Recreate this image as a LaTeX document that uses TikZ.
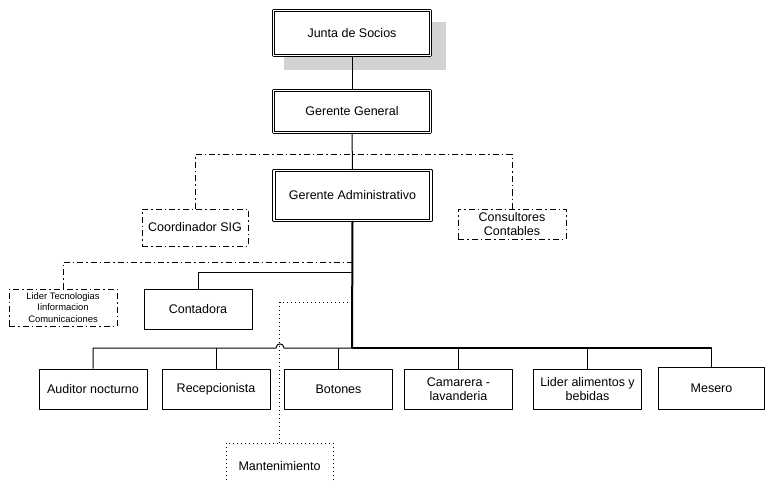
\documentclass[tikz,border=0pt]{standalone}
\usepackage{fontspec}
\setmainfont{Liberation Sans}
\begin{document}
\begin{tikzpicture}[x=1pt,y=-1pt,font=\fontsize{12.5}{14}\selectfont,line join=round,
		cargo/.style={draw,fill=white,line width=0.8pt,double,double distance=1.5pt,minimum width=157pt,inner sep=0pt},
		puesto/.style={draw,fill=white,line width=1pt,minimum width=108pt,minimum height=40pt,inner sep=0pt,align=center},
		asesor/.style={dash pattern=on 6pt off 3pt on 1.5pt off 3pt},
		apoyo/.style={dash pattern=on 1pt off 3pt,line width=1pt},
		linea/.style={line width=1pt}] %Organigrama
			\useasboundingbox (0,0) rectangle (765,481);
			\fill[gray!35] (284,22) rectangle (446,70);
			\node[cargo,minimum height=45pt] (junta) at (352,33) {Junta de Socios};
			\node[cargo,minimum height=42pt] (gerente) at (352,111.5) {Gerente General};
			\node[cargo,minimum height=50pt] (admin) at (352.5,195.5) {Gerente Administrativo};
			\node[puesto,asesor,minimum width=106pt,minimum height=37pt] (sig) at (195,227.5) {Coordinador SIG};
			\node[puesto,asesor,minimum height=30pt] (consult) at (512,224) {Consultores\\Contables};
			\node[puesto,asesor,minimum height=37pt,font=\fontsize{9.4}{11.5}\selectfont] (liderti) at (63,307.5) {Lider Tecnologias\\Iinformacion\\Comunicaciones};
			\node[puesto] (contadora) at (198,309) {Contadora};
			\node[puesto] (auditor) at (93,389) {Auditor nocturno};
			\node[puesto] (recep) at (216,389) {Recepcionista};
			\node[puesto] (botones) at (338.5,389) {Botones};
			\node[puesto] (camarera) at (458.5,389) {Camarera -\\lavanderia};
			\node[puesto] (liderab) at (587.5,389) {Lider alimentos y\\bebidas};
			\node[puesto,minimum width=106pt,minimum height=42pt] (mesero) at (711.5,388) {Mesero};
			\node[puesto,apoyo,minimum width=107pt,minimum height=46pt] (mant) at (279.5,466) {Mantenimiento};
			\coordinate (asesoria) at (352,155);
			\coordinate (ti) at (352,262);
			\coordinate (conta) at (352,272);
			\coordinate (apoyo) at (352,302);
			\coordinate (nudo) at (352,348);
			\draw[linea] (junta.south)--(gerente.north);
			\draw[linea] (gerente.south)--(admin.north);
			\draw[linea,asesor] (sig.north) |- (asesoria) -| (consult.north);
			\draw[line width=2pt] (admin.south)--(nudo);
			\draw[linea,asesor] (liderti.north) |- (ti);
			\draw[linea] (contadora.north) |- (conta);
			\draw[apoyo] (mant.north) |- (apoyo);
			\draw[line width=1.3pt] (nudo) -| (mesero.north);
			\draw[linea] (nudo)--(284,348) .. controls (284,342.5) and (276,342.5) .. (276,348) -| (auditor.north);
			\foreach \p in {recep,botones,camarera,liderab}
				\draw[linea] (\p.north)--(\p.north |- nudo);
		\end{tikzpicture}
\end{document}
